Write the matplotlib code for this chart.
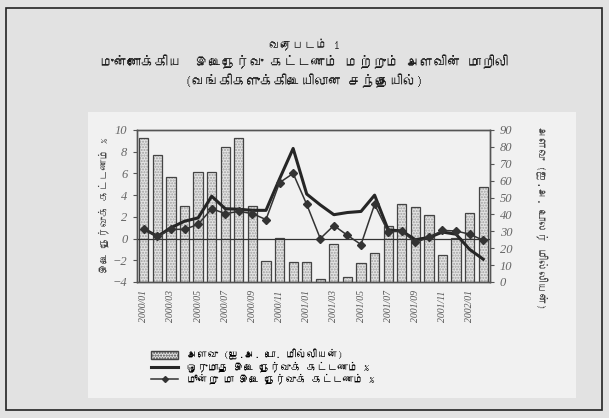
import numpy as np
import matplotlib
matplotlib.use('Agg')
from matplotlib import pyplot as plt
from matplotlib import font_manager as fm
from matplotlib.ft2font import FT2Font
from matplotlib.patches import Rectangle, Patch
from matplotlib.lines import Line2D

# Data
months = ['2000/01', '2000/02', '2000/03', '2000/04', '2000/05', '2000/06', '2000/07',
          '2000/08', '2000/09', '2000/10', '2000/11', '2000/12', '2001/01', '2001/02',
          '2001/03', '2001/04', '2001/05', '2001/06', '2001/07', '2001/08', '2001/09',
          '2001/10', '2001/11', '2001/12', '2002/01', '2002/02']
volume = [85, 75, 62, 45, 65, 65, 80, 85, 45, 12.5, 26, 11.7, 11.7, 1.6, 22.5, 3.2,
          11.1, 17.1, 33.4, 45.9, 44.5, 39.9, 16.1, 26, 41, 56]
rate_1m = [0.9, 0.2, 1.0, 1.6, 1.9, 3.9, 2.75, 2.7, 2.6, 2.6, 5.5, 8.3, 4.1, 3.1,
           2.2, 2.4, 2.5, 4.0, 0.8, 0.7, -0.1, 0.1, 0.6, 0.4, -1.0, -1.9]
rate_3m = [0.85, 0.2, 0.85, 0.85, 1.3, 2.75, 2.3, 2.5, 2.3, 1.75, 5.15, 6.0, 3.15, 0.0,
           1.2, 0.3, -0.55, 3.15, 0.6, 0.7, -0.35, 0.1, 0.75, 0.7, 0.4, -0.15]

title1 = 'வரைபடம் 1'
title2 = 'முன்னோக்கிய  இடைநேர்வு கட்டணம் மற்றும் அளவின் மாறிலி'
title3 = '(வங்கிகளுக்கிடையிலான சந்தையில்)'
ylabel_left = 'இடை நேர்வுக் கட்டணம் %'
ylabel_right = 'அளவு (ஐ.அ. டொலர் மில்லியன்)'
legend_labels = ['அளவு (ஐ.அ. டொ. மில்லியன்)',
                 'ஒருமாத இடை நேர்வுக் கட்டணம் %',
                 'மூன்று மா இடை நேர்வுக் கட்டணம் %']


def find_tamil_font():
    for f in fm.fontManager.ttflist:
        try:
            if 0x0B95 in FT2Font(f.fname).get_charmap():
                return f.name
        except Exception:
            pass
    return None


ta_font = find_tamil_font()
families = [ta_font, 'DejaVu Sans'] if ta_font else ['DejaVu Sans']
plt.rcParams['font.family'] = families

fig = plt.figure(figsize=(6.09, 4.18), dpi=100)
fig.patch.set_facecolor('#e2e2e2')

# outer frame and lighter chart panel (behind the axes)
fig.patches.append(Rectangle((6/609, 1-410/418), 596/609, 402/418, transform=fig.transFigure,
                             fill=False, edgecolor='#222222', linewidth=1.2, zorder=-2))
fig.patches.append(Rectangle((88/609, 1-398/418), 488/609, 286/418, transform=fig.transFigure,
                             facecolor='#f1f1f1', edgecolor='none', zorder=-1))

ax = fig.add_axes([137/609, 1-282/418, 353/609, 152/418])
ax2 = ax.twinx()
ax.set_zorder(ax2.get_zorder() + 1)
ax.patch.set_visible(False)
ax2.patch.set_facecolor('white')

x = np.arange(len(months))

# volume bars (right axis)
ax2.bar(x, volume, width=0.68, color='#e4e4e4', edgecolor='#a0a0a0', hatch='......',
        linewidth=0)
ax2.bar(x, volume, width=0.68, fill=False, edgecolor='#444444', linewidth=0.9)
ax2.set_ylim(0, 90)
ax2.set_yticks(range(0, 91, 10))

# rates (left axis)
ax.axhline(0, color='#333333', linewidth=0.9)
ax.plot(x, rate_1m, color='#262626', linewidth=2.2)
ax.plot(x, rate_3m, color='#333333', linewidth=1.1, marker='D', markersize=4)
ax.set_ylim(-4, 10)
ax.set_yticks(range(-4, 11, 2))
ax.set_xlim(-0.5, len(months) - 0.5)

ax.set_xticks(x[::2])
ax.set_xticklabels(months[::2], rotation=90, fontfamily='Liberation Serif',
                   style='italic', color='#555555', fontsize=7)
ax.tick_params(axis='x', length=0, pad=6)
ax.tick_params(axis='y', length=3, color='#555555', pad=4)
ax2.tick_params(axis='y', length=3, color='#555555', pad=4)
for lab in ax.get_yticklabels() + ax2.get_yticklabels():
    lab.set_fontfamily('Liberation Serif')
    lab.set_fontstyle('italic')
    lab.set_color('#666666')
    lab.set_fontsize(9)

for a in (ax, ax2):
    for sp in a.spines.values():
        sp.set_color('#555555')
        sp.set_linewidth(1)

# titles
fig.text(0.5, 1-45/418, title1, ha='center', va='center', fontsize=8.5, color='#1a1a1a')
fig.text(0.5, 1-62/418, title2, ha='center', va='center', fontsize=9.8, color='#1a1a1a')
fig.text(0.5, 1-81/418, title3, ha='center', va='center', fontsize=9.8, color='#1a1a1a')

# axis labels
fig.text(104/609, 1-205/418, ylabel_left, rotation=90, ha='center', va='center',
         fontsize=7.5, color='#444444')
fig.text(541/609, 1-218/418, ylabel_right, rotation=-90, ha='center', va='center',
         fontsize=8, color='#444444')

# legend
handles = [Patch(facecolor='#e4e4e4', edgecolor='#444444', hatch='......'),
           Line2D([], [], color='#262626', linewidth=2.2),
           Line2D([], [], color='#333333', linewidth=1.1, marker='D', markersize=3)]
fig.legend(handles, legend_labels, loc='upper left', bbox_to_anchor=(146/609, 1-344/418),
           frameon=False, fontsize=7.5, handlelength=2.6, handletextpad=0.8,
           labelspacing=0.1, borderpad=0)

fig.savefig('out.png', dpi=100, facecolor=fig.get_facecolor())
